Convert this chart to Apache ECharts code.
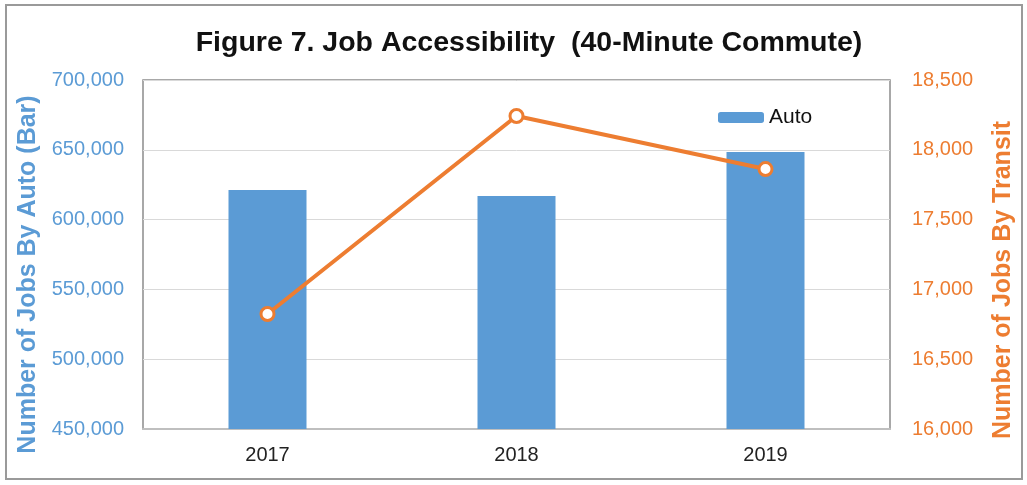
<!DOCTYPE html>
<html>
<head>
<meta charset="utf-8">
<title>Job Accessibility</title>
<script src="https://cdn.jsdelivr.net/npm/echarts@6/dist/echarts.min.js"></script>
<style>
  html, body { margin: 0; padding: 0; background: #fff; }
  #chart { width: 1027px; height: 485px; }
</style>
</head>
<body>
<div id="chart"></div>
<script>
const years = ['2017', '2018', '2019']
const autoJobs = [621200, 616900, 648400]
const transitJobs = [16824, 18242, 17862]

const blue = '#5b9bd5'
const orange = '#ed7d31'
const font = 'Liberation Sans, Arial, sans-serif'

const fmt = v => v.toLocaleString('en-US')

const chart = echarts.init(document.getElementById('chart'))

chart.setOption({
  animation: false,
  textStyle: { fontFamily: font },
  title: {
    text: 'Figure 7. Job Accessibility  (40-Minute Commute)',
    left: 524,
    top: 24,
    textAlign: 'center',
    textStyle: { fontSize: 28.5, fontWeight: 'bold', color: '#111', fontFamily: font },
  },
  graphic: [
    {
      type: 'rect',
      shape: { x: 6, y: 5, width: 1016, height: 474 },
      style: { fill: 'none', stroke: '#9a9a9a', lineWidth: 2 },
      silent: true,
    },
  ],
  legend: {
    data: ['Auto'],
    left: 713,
    top: 102,
    itemWidth: 46,
    itemHeight: 11,
    itemGap: 4,
    textStyle: { fontSize: 21, color: '#111', fontFamily: font },
  },
  grid: {
    left: 143,
    right: 137,
    top: 80,
    height: 349,
    show: true,
    borderColor: '#8c8c8c',
    borderWidth: 1.5,
  },
  xAxis: {
    type: 'category',
    data: years,
    axisTick: { show: false },
    axisLine: { lineStyle: { color: '#bfbfbf', width: 2 } },
    axisLabel: { fontSize: 20, color: '#222', margin: 16 },
  },
  yAxis: [
    {
      type: 'value',
      min: 450000,
      max: 700000,
      interval: 50000,
      name: 'Number of Jobs By Auto (Bar)',
      nameLocation: 'middle',
      nameGap: 99,
      nameTextStyle: {
        fontSize: 25, fontWeight: 'bold', color: blue, fontFamily: font,
        padding: [0, 40, 0, 0],
      },
      axisLine: { show: false },
      axisTick: { show: false },
      axisLabel: { fontSize: 20, color: blue, margin: 19, formatter: fmt },
      splitLine: { lineStyle: { color: '#d9d9d9', width: 1 } },
    },
    {
      type: 'value',
      min: 16000,
      max: 18500,
      interval: 500,
      name: 'Number of Jobs By Transit',
      nameLocation: 'middle',
      nameGap: 101,
      nameTextStyle: {
        fontSize: 25, fontWeight: 'bold', color: orange, fontFamily: font,
        padding: [0, 51, 0, 0],
      },
      axisLine: { show: false },
      axisTick: { show: false },
      axisLabel: { fontSize: 20, color: orange, margin: 22, formatter: fmt },
      splitLine: { show: false },
    },
  ],
  series: [
    {
      name: 'Auto',
      type: 'bar',
      data: autoJobs,
      barWidth: 78,
      itemStyle: { color: blue },
    },
    {
      name: 'Transit',
      type: 'line',
      yAxisIndex: 1,
      data: transitJobs,
      symbol: 'circle',
      symbolSize: 13,
      lineStyle: { color: orange, width: 4 },
      itemStyle: { color: '#fff', borderColor: orange, borderWidth: 3 },
      z: 5,
    },
  ],
})
</script>
</body>
</html>
